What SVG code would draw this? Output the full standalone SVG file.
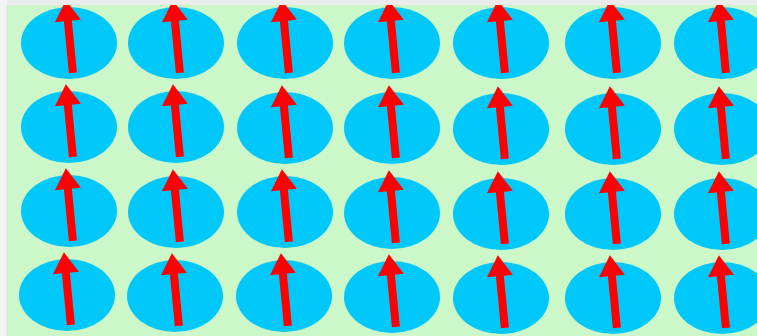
<svg xmlns="http://www.w3.org/2000/svg" xmlns:xlink="http://www.w3.org/1999/xlink" width="757" height="336" viewBox="0 0 757 336">
<style>
.bg{fill:#ccf7c9}
.dot{fill:#00c8fa}
.shaft{stroke:#ff0000;stroke-width:8;fill:none}
.head{fill:#ff0000}
</style>
<defs>
<g id="spin">
<ellipse class="dot" cx="0" cy="0" rx="48" ry="36"/>
<g transform="translate(1,0) rotate(-5.5)">
<line class="shaft" x1="0" y1="30" x2="0" y2="-24"/>
<polygon class="head" points="0,-43 -13,-22 13,-22"/>
</g>
</g>
</defs>
<rect class="bg" x="0" y="0" width="757" height="336"/>
<g id="nodes">
<g id="n1-1" transform="translate(69,43)"><use href="#spin"/></g>
<g id="n1-2" transform="translate(176,43)"><use href="#spin"/></g>
<g id="n1-3" transform="translate(285,43)"><use href="#spin"/></g>
<g id="n1-4" transform="translate(392,43)"><use href="#spin"/></g>
<g id="n1-5" transform="translate(501,43)"><use href="#spin"/></g>
<g id="n1-6" transform="translate(613,43)"><use href="#spin"/></g>
<g id="n1-7" transform="translate(722,43)"><use href="#spin"/></g>
<g id="n2-1" transform="translate(69,127)"><use href="#spin"/></g>
<g id="n2-2" transform="translate(176,127)"><use href="#spin"/></g>
<g id="n2-3" transform="translate(285,128)"><use href="#spin"/></g>
<g id="n2-4" transform="translate(392,128)"><use href="#spin"/></g>
<g id="n2-5" transform="translate(501,129)"><use href="#spin"/></g>
<g id="n2-6" transform="translate(613,129)"><use href="#spin"/></g>
<g id="n2-7" transform="translate(722,129)"><use href="#spin"/></g>
<g id="n3-1" transform="translate(69,211)"><use href="#spin"/></g>
<g id="n3-2" transform="translate(176,212)"><use href="#spin"/></g>
<g id="n3-3" transform="translate(285,212)"><use href="#spin"/></g>
<g id="n3-4" transform="translate(392,213)"><use href="#spin"/></g>
<g id="n3-5" transform="translate(501,214)"><use href="#spin"/></g>
<g id="n3-6" transform="translate(613,214)"><use href="#spin"/></g>
<g id="n3-7" transform="translate(722,214)"><use href="#spin"/></g>
<g id="n4-1" transform="translate(67,295)"><use href="#spin"/></g>
<g id="n4-2" transform="translate(175,296)"><use href="#spin"/></g>
<g id="n4-3" transform="translate(284,296)"><use href="#spin"/></g>
<g id="n4-4" transform="translate(392,297)"><use href="#spin"/></g>
<g id="n4-5" transform="translate(501,298)"><use href="#spin"/></g>
<g id="n4-6" transform="translate(613,298)"><use href="#spin"/></g>
<g id="n4-7" transform="translate(722,298)"><use href="#spin"/></g>
</g>
<g id="connectors"/>
<rect x="0" y="0" width="757" height="5" fill="#ececec"/>
<rect x="0" y="0" width="7" height="336" fill="#f4f4f4"/>
<line x1="7" y1="5" x2="7" y2="336" stroke="#dcdcdc" stroke-width="1"/>
</svg>
